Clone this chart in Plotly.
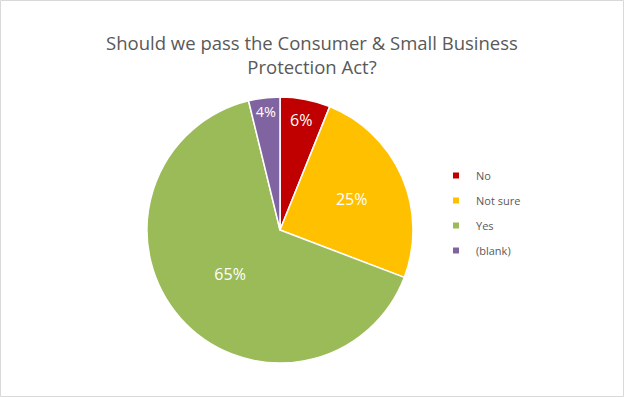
import plotly.graph_objects as go

labels = ["No", "Not sure", "Yes", "(blank)"]
values = [6.1, 24.7, 65.4, 3.8]
colors = ["#C00000", "#FFC000", "#9BBB59", "#8064A2"]
title = "Should we pass the Consumer & Small Business<br>Protection Act?"

W, H = 624, 397
fig = go.Figure()
fig.add_trace(go.Pie(
    labels=labels, values=values, sort=False, direction="clockwise", rotation=0,
    marker=dict(colors=colors, line=dict(color="white", width=1.5)),
    textinfo="percent", texttemplate="%{percent:.0%}", textposition="inside",
    insidetextorientation="horizontal",
    textfont=dict(color="white", size=16, family="Open Sans"),
    domain=dict(x=[147/W, 413/W], y=[1-363/H, 1-97/H]),
    hoverinfo="label+percent", showlegend=False,
))
for lab, col in zip(labels, colors):
    fig.add_trace(go.Scatter(
        x=[None], y=[None], mode="markers", name=lab,
        marker=dict(symbol="square", size=6, color=col),
        legendgroup=lab, showlegend=True,
    ))
fig.update_layout(
    width=W, height=H, margin=dict(l=0, r=0, t=0, b=0),
    paper_bgcolor="white", plot_bgcolor="white",
    xaxis=dict(visible=False), yaxis=dict(visible=False),
    title=dict(text=title, x=0.5, xanchor="center", y=1-50/H, yanchor="top",
               font=dict(family="Open Sans", size=18.5, color="#595959")),
    legend=dict(x=436/W, y=1-213/H, xanchor="left", yanchor="middle",
                font=dict(family="Open Sans", size=11, color="#595959"),
                itemwidth=30, tracegroupgap=6),
    shapes=[dict(type="rect", xref="paper", yref="paper", x0=0.5/W, y0=0.5/H,
                 x1=1-0.5/W, y1=1-0.5/H, line=dict(color="#D9D9D9", width=1))],
)
fig.write_html("out.html", config={"displayModeBar": False},
               post_script="document.body.style.margin='0';")
